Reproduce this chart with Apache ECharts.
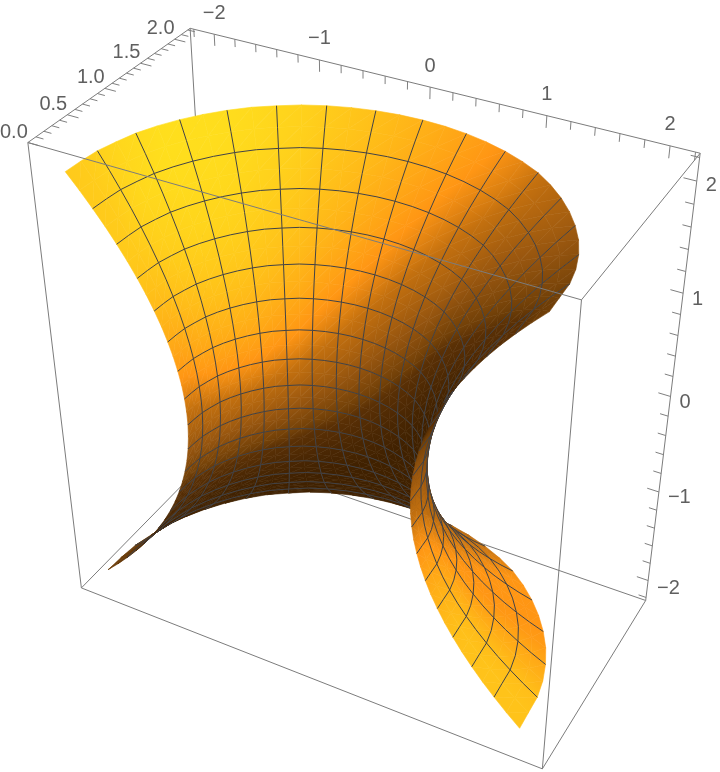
<!DOCTYPE html>
<html style="height: 100%">
  <head>
    <meta charset="utf-8" />
    <title>ECharts</title>
    <script src="https://cdn.jsdelivr.net/npm/echarts@6/dist/echarts.min.js"></script>
  </head>
  <body style="height: 100%; margin: 0; background: #fff">
    <div id="container" style="width: 720px; height: 772px"></div>

    <script type="text/javascript">
      // surface: ring height, ring radius, angle in degrees, radius stretch per angle
      var ringZ = [2, 1.875, 1.75, 1.625, 1.5, 1.375, 1.25, 1.125, 1, 0.875, 0.75, 0.625, 0.5, 0.375, 0.25, 0.125, 0,
        -0.125, -0.25, -0.375, -0.5, -0.625, -0.75, -0.875, -1, -1.125, -1.25, -1.375, -1.5, -1.625, -1.75, -1.875, -2];
      var ringR = [2, 1.879, 1.766, 1.66, 1.563, 1.473, 1.391, 1.316, 1.25, 1.191, 1.141, 1.098, 1.063, 1.035, 1.016, 1.004, 1,
        1.004, 1.016, 1.035, 1.063, 1.098, 1.141, 1.191, 1.25, 1.316, 1.391, 1.473, 1.563, 1.66, 1.766, 1.879, 2];
      var angles = [3, 8.44, 13.88, 19.31, 24.75, 30.19, 35.63, 41.06, 46.5, 51.94, 57.38, 62.81, 68.25, 73.69, 79.13, 84.56, 90,
        95.44, 100.88, 106.31, 111.75, 117.19, 122.63, 128.06, 133.5, 138.94, 144.38, 149.81, 155.25, 160.69, 166.13, 171.56, 177];
      var stretch = [0.99, 0.995, 1.01, 1.02, 1.028, 1.035, 1.04, 1.045, 1.05, 1.055, 1.06, 1.06, 1.06, 1.06, 1.06, 1.06, 1.06,
        1.06, 1.06, 1.06, 1.06, 1.06, 1.055, 1.055, 1.05, 1.045, 1.04, 1.035, 1.03, 1.02, 1.015, 1.005, 1];

      // axes
      var xLabels = [-2, -1, 0, 1, 2];
      var yLabels = ['0.0', '0.5', '1.0', '1.5', '2.0'];
      var zLabels = [2, 1, 0, -1, -2];
      var zLabelShift = [4, 6, 6, 6, 8];
      var xTicks = [-2.2, -2, -1.8, -1.6, -1.4, -1.2, -1, -0.8, -0.6, -0.4, -0.2, 0, 0.2, 0.4, 0.6, 0.8, 1, 1.2, 1.4, 1.6, 1.8, 2, 2.2];
      var yTicks = [0, 0.1, 0.2, 0.3, 0.4, 0.5, 0.6, 0.7, 0.8, 0.9, 1, 1.1, 1.2, 1.3, 1.4, 1.5, 1.6, 1.7, 1.8, 1.9, 2, 2.1, 2.2];
      var zTicks = xTicks;
      var boxX = [-2.236, 2.236];
      var boxY = [0, 2.236];
      var boxZ = [-2.236, 2.236];

      // camera, mathematica default viewpoint
      var viewPoint = [1.3, -2.4, 2];
      var cx = 362.4, cy = 390.5, zoom = 1858;
      var ramp = [
        [0, [60, 30, 0]],
        [0.45, [64, 33, 0]],
        [0.52, [74, 39, 3]],
        [0.59, [90, 48, 5]],
        [0.62, [115, 65, 8]],
        [0.686, [150, 85, 15]],
        [0.773, [195, 112, 15]],
        [0.83, [255, 150, 20]],
        [1, [255, 228, 30]]
      ];
      // one light sets the dark side, the other the yellow highlight
      var lightDir = [0.3, 0.4, 0.87];
      var highlightDir = [0.31, 0.01, 0.95];

      function dot(a, b) { return a[0] * b[0] + a[1] * b[1] + a[2] * b[2]; }
      function cross(a, b) {
        return [a[1] * b[2] - a[2] * b[1], a[2] * b[0] - a[0] * b[2], a[0] * b[1] - a[1] * b[0]];
      }
      function norm(a) {
        var l = Math.sqrt(dot(a, a)) || 1;
        return [a[0] / l, a[1] / l, a[2] / l];
      }
      function sub(a, b) { return [a[0] - b[0], a[1] - b[1], a[2] - b[2]]; }

      var camDist = Math.sqrt(dot(viewPoint, viewPoint));
      var back = norm(viewPoint);
      var right = norm(cross([-back[0], -back[1], -back[2]], [0, 0, 1]));
      var up = cross(right, [-back[0], -back[1], -back[2]]);

      // data units to the unit box the camera looks at
      function scaled(p) {
        return [p[0] * 0.5 / boxX[1], (p[1] - boxY[1] / 2) * 0.5 / boxY[1], p[2] * 0.5 / boxZ[1]];
      }
      function depth(p) { return camDist - dot(scaled(p), back); }
      function project(p) {
        var s = scaled(p), d = camDist - dot(s, back);
        return [cx + zoom * dot(s, right) / d, cy - zoom * dot(s, up) / d];
      }
      function rampColor(i) {
        for (var k = 1; k < ramp.length; k++) {
          if (i <= ramp[k][0]) {
            var t = Math.max(0, (i - ramp[k - 1][0]) / (ramp[k][0] - ramp[k - 1][0])), a = ramp[k - 1][1], b = ramp[k][1];
            return 'rgb(' + Math.round(a[0] + (b[0] - a[0]) * t) + ',' + Math.round(a[1] + (b[1] - a[1]) * t) + ',' + Math.round(a[2] + (b[2] - a[2]) * t) + ')';
          }
        }
        return 'rgb(255,228,30)';
      }

      var nodes = ringZ.map(function (z, j) {
        return angles.map(function (a, i) {
          var t = a * Math.PI / 180;
          return [ringR[j] * stretch[i] * Math.cos(t), ringR[j] * stretch[i] * Math.sin(t), z];
        });
      });
      var nj = ringZ.length, ni = angles.length;

      function nodeNormal(j, i) {
        var du = sub(nodes[j][Math.min(i + 1, ni - 1)], nodes[j][Math.max(i - 1, 0)]);
        var dv = sub(nodes[Math.min(j + 1, nj - 1)][i], nodes[Math.max(j - 1, 0)][i]);
        return norm(cross(du, dv));
      }
      function shade(n, sign) {
        var v = [dot(n, right) * sign, dot(n, up) * sign, dot(n, back) * sign];
        var s = (dot(v, norm(lightDir)) + 1) / 2;
        if (s < 0.83) {
          return s;
        }
        var h = 0.83 + (dot(v, norm(highlightDir)) - 0.61) * 0.436;
        return Math.max(0.83, Math.min(s, h));
      }

      // everything the custom series draws, back to front
      var items = [];
      function addTri(a, b, c, sign, dist) {
        items.push({
          kind: 'tri', d: dist, pts: [nodes[a[0]][a[1]], nodes[b[0]][b[1]], nodes[c[0]][c[1]]],
          shades: [shade(nodeNormal(a[0], a[1]), sign), shade(nodeNormal(b[0], b[1]), sign), shade(nodeNormal(c[0], c[1]), sign)]
        });
      }
      var i, j;
      for (j = 0; j < nj - 1; j++) {
        for (i = 0; i < ni - 1; i++) {
          var q = [nodes[j][i], nodes[j][i + 1], nodes[j + 1][i + 1], nodes[j + 1][i]];
          var mid = [0, 1, 2].map(function (k) { return (q[0][k] + q[1][k] + q[2][k] + q[3][k]) / 4; });
          var toCam = sub(viewPoint, scaled(mid));
          var sign = dot(norm(cross(sub(q[2], q[0]), sub(q[3], q[1]))), toCam) >= 0 ? 1 : -1;
          var dist = depth(mid);
          addTri([j, i], [j, i + 1], [j + 1, i + 1], sign, dist);
          addTri([j, i], [j + 1, i + 1], [j + 1, i], sign, dist);
          if (j > 0 && j % 2 === 0) {
            items.push({ kind: 'mesh', d: dist - 0.06, pts: [q[0], q[1]] });
          }
          if (i > 0 && i % 2 === 0) {
            items.push({ kind: 'mesh', d: dist - 0.06, pts: [q[0], q[3]] });
          }
        }
      }
      items.sort(function (a, b) { return b.d - a.d; });

      function corner(x, y, z) { return [boxX[x], boxY[y], boxZ[z]]; }
      // edges behind the surface
      var backEdges = [
        [corner(0, 1, 1), corner(0, 1, 0)],
        [corner(0, 1, 0), corner(0, 0, 0)],
        [corner(0, 1, 0), corner(1, 1, 0)]
      ];
      var frontEdges = [
        [corner(0, 1, 1), corner(1, 1, 1)],
        [corner(0, 1, 1), corner(0, 0, 1)],
        [corner(0, 0, 1), corner(1, 0, 1)],
        [corner(1, 0, 1), corner(1, 1, 1)],
        [corner(1, 1, 1), corner(1, 1, 0)],
        [corner(1, 1, 0), corner(1, 0, 0)],
        [corner(1, 0, 0), corner(1, 0, 1)],
        [corner(1, 0, 0), corner(0, 0, 0)],
        [corner(0, 0, 0), corner(0, 0, 1)]
      ];
      var over = [];
      frontEdges.forEach(function (e) { over.push({ kind: 'edge', pts: e }); });

      xTicks.forEach(function (t) {
        var major = Math.abs(t - Math.round(t)) < 1e-6;
        var len = major ? 0.105 : 0.07;
        over.push({ kind: 'tick', major: major, pts: [[t, boxY[1], boxZ[1]], [t, boxY[1], boxZ[1] - len]] });
      });
      yTicks.forEach(function (t) {
        var major = Math.abs(t * 2 - Math.round(t * 2)) < 1e-6;
        var len = major ? 0.105 : 0.07;
        over.push({ kind: 'tick', major: major, pts: [[boxX[0], t, boxZ[1]], [boxX[0] + len, t, boxZ[1]]] });
      });
      zTicks.forEach(function (t) {
        var major = Math.abs(t - Math.round(t)) < 1e-6;
        var len = major ? 0.105 : 0.07;
        over.push({ kind: 'tick', major: major, pts: [[boxX[1], boxY[1], t], [boxX[1] - len, boxY[1], t]] });
      });

      xLabels.forEach(function (t) {
        over.push({ kind: 'label', at: [t, boxY[1], boxZ[1]], text: String(t).replace('-', '\u2212'), dx: 0, dy: -21, align: 'center' });
      });
      yLabels.forEach(function (t) {
        over.push({ kind: 'label', at: [boxX[0], Number(t), boxZ[1]], text: t, dx: -14, dy: -10.5, align: 'center' });
      });
      zLabels.forEach(function (t, k) {
        over.push({ kind: 'label', at: [boxX[1], boxY[1], t], text: String(t).replace('-', '\u2212'), dx: 9, dy: zLabelShift[k], align: 'left' });
      });

      var drawList = backEdges.map(function (e) { return { kind: 'edge', pts: e }; }).concat(items, over);

      // gradient of a triangle's shade in screen space, so neighbours join without a seam
      function triFill(pts, s) {
        var e1 = [pts[1][0] - pts[0][0], pts[1][1] - pts[0][1]];
        var e2 = [pts[2][0] - pts[0][0], pts[2][1] - pts[0][1]];
        var det = e1[0] * e2[1] - e1[1] * e2[0];
        var lo = Math.min(s[0], s[1], s[2]), hi = Math.max(s[0], s[1], s[2]);
        if (Math.abs(det) < 1e-3 || hi - lo < 1e-4) {
          return rampColor((lo + hi) / 2);
        }
        var d1 = s[1] - s[0], d2 = s[2] - s[0];
        var gx = (d1 * e2[1] - d2 * e1[1]) / det, gy = (d2 * e1[0] - d1 * e2[0]) / det;
        var g2 = gx * gx + gy * gy;
        var sx = pts[0][0] - gx * (s[0] - lo) / g2, sy = pts[0][1] - gy * (s[0] - lo) / g2;
        var stops = [{ offset: 0, color: rampColor(lo) }];
        ramp.forEach(function (r) {
          if (r[0] > lo && r[0] < hi) {
            stops.push({ offset: (r[0] - lo) / (hi - lo), color: rampColor(r[0]) });
          }
        });
        stops.push({ offset: 1, color: rampColor(hi) });
        return {
          type: 'linear', global: true,
          x: sx, y: sy, x2: sx + gx * (hi - lo) / g2, y2: sy + gy * (hi - lo) / g2,
          colorStops: stops
        };
      }

      function renderItem(params, api) {
        var it = drawList[params.dataIndex];
        var pts;
        if (it.kind === 'label') {
          var pos = project(it.at), c = api.coord(pos);
          return {
            type: 'text',
            style: {
              x: c[0] + it.dx, y: c[1] + it.dy, text: it.text,
              fill: '#5f5f5f', font: '20px "Liberation Sans"',
              align: it.align, verticalAlign: 'middle'
            }
          };
        }
        pts = it.pts.map(function (p) { return api.coord(project(p)); });
        if (it.kind === 'tri') {
          var fill = triFill(pts, it.shades);
          return {
            type: 'polygon',
            shape: { points: pts },
            style: { fill: fill, stroke: fill, lineWidth: 0.6 },
            silent: true
          };
        }
        var stroke = '#7c7c7c', lw = 1;
        if (it.kind === 'mesh') { stroke = '#414246'; lw = 1; }
        if (it.kind === 'tick') { stroke = '#808080'; lw = 1; }
        return {
          type: 'line',
          shape: { x1: pts[0][0], y1: pts[0][1], x2: pts[1][0], y2: pts[1][1] },
          style: { stroke: stroke, lineWidth: lw, fill: null },
          silent: true
        };
      }

      var dom = document.getElementById('container');
      var myChart = echarts.init(dom);
      myChart.setOption({
        backgroundColor: '#ffffff',
        animation: false,
        grid: { left: 0, right: 0, top: 0, bottom: 0 },
        xAxis: { type: 'value', min: 0, max: 720, show: false },
        yAxis: { type: 'value', min: 0, max: 772, inverse: true, show: false },
        series: [
          {
            type: 'custom',
            coordinateSystem: 'cartesian2d',
            clip: false,
            progressive: 0,
            silent: true,
            renderItem: renderItem,
            data: drawList.map(function (d, k) { return [k]; })
          }
        ]
      });
    </script>
  </body>
</html>
